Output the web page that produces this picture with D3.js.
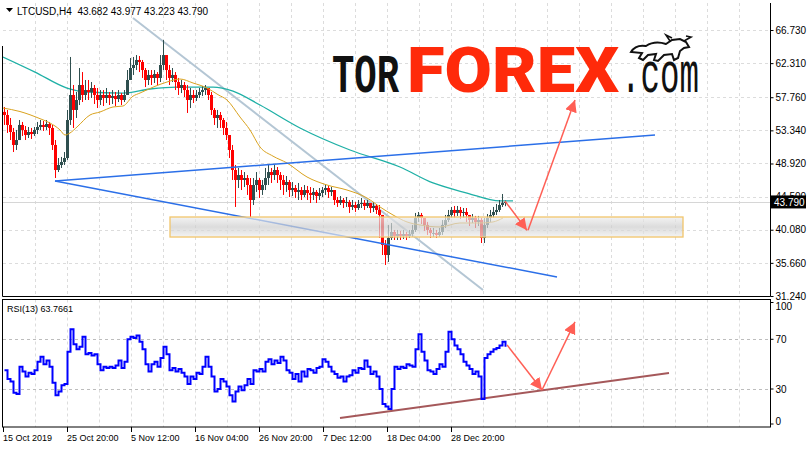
<!DOCTYPE html>
<html><head><meta charset="utf-8">
<script src="https://cdn.jsdelivr.net/npm/d3@7"></script>
<style>body{margin:0;background:#fff}svg{display:block}</style>
</head><body><svg id="c" width="811" height="449"></svg>
<script>
// ---------------- DATA ----------------
const symbol = "LTCUSD,H4";
const lastOHLC = ["43.682", "43.977", "43.223", "43.790"];
const rsiLabel = "RSI(13) 63.7661";
const logoParts = ["TOR", "FOREX", ".com"];
const barStep = 3;          // each stored candle covers 3 H4 bars
const firstOpen = 55.80;
const closes = [
 55.39,54.06,53.12,51.39,52.05,54.06,53.39,52.72,53.12,52.85,53.39,53.79,
 54.06,53.79,54.19,53.66,51.39,48.05,48.72,49.12,49.65,54.72,58.06,56.06,
 57.39,59.39,58.06,58.72,58.46,58.99,58.06,57.39,58.06,57.66,58.06,57.66,
 57.92,57.52,58.06,57.39,58.06,60.06,61.66,62.06,62.73,62.46,61.39,60.06,
 60.73,60.33,60.86,60.33,62.06,63.39,61.39,60.33,60.73,59.79,58.99,59.39,
 58.72,57.39,58.06,57.66,58.06,58.46,58.72,58.99,58.06,56.06,54.99,55.39,
 54.72,53.66,52.72,50.72,48.05,46.72,47.38,46.72,46.98,46.05,44.05,46.05,
 46.72,45.38,46.05,46.98,47.78,47.38,48.05,47.38,46.72,46.05,46.45,45.38,
 45.65,45.12,45.38,44.72,45.38,44.98,44.72,45.12,44.58,44.98,45.38,45.65,
 45.12,45.38,44.05,43.65,44.05,43.65,43.79,43.12,43.38,42.98,43.52,43.65,
 43.25,43.65,42.98,43.25,42.72,42.05,38.05,36.71,38.98,39.78,39.25,39.51,
 39.25,39.51,39.25,39.51,40.05,41.65,42.05,41.65,40.72,40.05,39.65,39.65,
 39.38,39.78,40.72,41.38,42.05,42.72,42.32,42.72,42.32,42.45,42.05,41.38,
 41.65,41.12,41.38,38.98,40.72,41.65,42.05,42.45,42.72,43.38,43.68,43.79];
const highs = [
 56.46,56.06,54.99,53.66,53.39,54.72,54.46,53.92,53.79,53.66,53.79,54.46,
 54.72,54.59,54.72,54.46,54.06,52.05,49.65,49.79,50.45,56.06,63.13,59.39,
 58.46,61.66,61.12,60.06,60.06,59.79,59.39,58.99,58.72,58.72,58.99,58.46,
 58.72,58.46,58.72,58.32,58.72,61.39,62.99,63.13,63.39,63.26,62.73,61.66,
 61.39,61.39,61.39,61.12,63.39,65.39,62.73,62.06,61.66,61.12,60.33,60.06,
 59.79,59.39,58.99,58.72,58.72,58.99,59.26,59.39,58.99,58.46,56.32,56.06,
 55.79,54.99,54.46,52.72,51.39,48.72,48.32,48.05,47.78,47.38,46.98,46.98,
 47.78,46.98,46.72,48.32,48.72,48.32,48.72,48.45,47.78,47.38,47.25,46.72,
 46.45,46.05,46.32,45.78,46.05,45.92,45.78,45.65,45.38,45.65,45.78,46.05,
 45.92,45.78,45.38,44.45,44.58,44.32,44.45,44.05,44.05,43.79,44.05,44.32,
 44.05,44.05,43.65,43.79,43.52,43.38,39.38,38.71,40.72,40.98,40.05,40.05,
 39.92,40.05,39.78,40.05,40.72,42.32,42.45,42.32,41.65,41.12,40.32,40.32,
 40.05,40.32,41.38,42.05,42.72,43.12,43.25,43.25,43.12,42.98,42.98,42.05,
 42.18,41.92,41.92,41.65,41.65,42.18,42.72,43.12,43.52,44.05,44.85,43.98];
const lows = [
 54.06,52.99,52.05,50.45,50.72,52.05,52.59,52.05,52.32,52.19,52.59,52.85,
 53.39,53.26,53.39,52.72,50.72,46.98,47.78,48.32,48.72,49.39,54.06,53.66,
 54.99,56.72,57.12,57.39,57.39,57.66,56.86,56.32,56.72,56.59,56.99,56.72,
 56.86,56.59,57.12,56.72,57.12,58.06,60.06,60.73,61.39,61.12,60.33,59.12,
 59.39,59.39,59.66,59.39,59.79,61.39,60.06,59.39,59.79,58.72,58.06,58.32,
 57.79,55.66,56.32,56.99,57.26,57.66,57.92,58.06,57.39,55.39,54.06,53.66,
 53.66,52.72,52.05,49.65,46.72,43.12,45.65,45.38,45.78,44.72,41.78,43.38,
 45.12,44.32,44.72,45.38,46.05,46.32,46.72,46.32,45.38,44.72,45.12,44.45,
 44.58,44.32,44.05,44.05,44.45,44.05,43.65,44.05,43.65,44.05,44.45,44.72,
 44.32,44.58,43.38,43.12,43.38,42.98,43.12,42.32,42.72,42.45,42.72,42.98,
 42.72,42.98,42.32,42.45,42.18,38.98,36.71,35.38,35.78,38.71,38.71,38.71,
 38.71,38.85,38.71,38.98,39.11,39.78,41.12,40.85,39.92,39.38,38.98,39.11,
 38.98,39.11,39.38,40.32,41.12,41.65,41.65,41.92,41.52,41.65,41.12,40.58,
 40.98,40.32,40.58,38.31,38.31,40.32,41.12,41.65,42.05,42.45,43.12,43.22];
const rsi = [
 45,38,36,27,26,48,44,40,43,42,45,52,
 56,50,53,48,35,25,28,33,34,60,78,66,
 62,64,72,58,59,57,58,50,45,48,47,48,
 47,49,53,47,52,70,72,71,73,68,62,50,
 44,50,52,48,55,64,58,45,47,44,46,43,
 40,34,40,38,43,42,48,56,48,40,28,30,
 38,36,32,25,20,28,32,29,33,38,34,45,
 44,46,44,52,54,50,53,51,56,53,45,43,
 38,42,36,44,40,46,45,43,47,48,54,52,
 48,44,42,39,40,36,40,41,45,43,47,46,
 53,48,42,44,40,30,18,16,14,30,48,46,
 48,47,50,49,48,62,74,60,53,45,44,42,
 46,50,48,60,76,70,65,62,58,52,49,46,
 42,44,40,22,55,58,60,62,63,65,68,64];
// moving averages: [bar, price]
const maSlow = [[0,63.13],[32,61.12],[64,58.99],[84,58.46],[120,58.32],[147,58.86],[174,59.12],
 [210,59.12],[230,58.59],[257,56.72],[297,53.66],[347,50.72],[397,48.45],[430,46.32],
 [464,44.98],[497,43.92],[510,43.92]];
const maFast = [[0,56.32],[17,55.85],[37,54.9],[47,54.32],[57,53.4],[62,52.72],[67,52.99],
 [74,53.79],[87,55.39],[97,55.79],[110,56.46],[120,56.59],[130,57.9],[137,58.32],[150,59.1],
 [164,59.79],[177,60.19],[190,59.66],[204,58.99],[215,58.1],[224,57.39],[237,55.12],
 [247,53.39],[257,51.12],[270,49.9],[284,48.99],[304,47.12],[324,46.05],[344,45.38],
 [364,44.32],[377,43.12],[390,42.05],[404,41.12],[417,40.72],[437,40.45],[457,40.98],
 [477,40.98],[490,41.12],[500,41.65]];
const priceTicks = [66.73, 62.31, 57.76, 53.34, 48.92, 44.50, 40.08, 35.66, 31.24];
const rsiTicks = [100, 70, 30, 0];
const timeLabels = ["15 Oct 2019","25 Oct 20:00","5 Nov 12:00","16 Nov 04:00","26 Nov 20:00","7 Dec 12:00","18 Dec 04:00","28 Dec 20:00"];
const timeLabelBars = [0, 64, 128, 192, 256, 320, 384, 448];
const lastPrice = 43.79;
const trendUpper = [[52,46.58],[652,52.72]];
const trendLower = [[52,46.58],[554,33.78]];
const trendSteep = [[130,68.33],[480,32.05]];
const zoneBars = [167, 680];
const zonePrices = [39.11, 41.78];
const arrowsMain = [[[502,43.9],[524,40.0]], [[525,40.0],[572,57.4]]];
const rsiTrend = [[337,6.7],[666,42.9]];
const arrowsRsi = [[[504,65.5],[539,29.2]], [[539,29.2],[572,84]]];

// ---------------- DRAW ----------------
const svg = d3.select("#c");
const W = 811, H = 449;
const L = 3, R = 771, mainTop = 3, mainBot = 296.5, rTop = 299.5, rBot = 427;
const x = d3.scaleLinear().domain([0, 768]).range([L, R]);
const y = d3.scaleLinear().domain([31.24, 66.73]).range([296, 30]);
const yr = d3.scaleLinear().domain([0, 100]).range([426.3, 302]);
const FONT = "'Liberation Sans', Arial, sans-serif";

svg.append("rect").attr("width", W).attr("height", H).attr("fill", "#fff");
const defs = svg.append("defs");
defs.append("clipPath").attr("id","cm").append("rect").attr("x",L).attr("y",mainTop).attr("width",R-L).attr("height",mainBot-mainTop);
defs.append("clipPath").attr("id","cr").append("rect").attr("x",L).attr("y",rTop).attr("width",R-L).attr("height",rBot-rTop);
const grad = defs.append("linearGradient").attr("id","zg").attr("x1",0).attr("y1",0).attr("x2",0).attr("y2",1);
grad.append("stop").attr("offset","0%").attr("stop-color","#eeeeee");
grad.append("stop").attr("offset","50%").attr("stop-color","#cdcdcd");
grad.append("stop").attr("offset","100%").attr("stop-color","#eeeeee");
defs.append("marker").attr("id","ah").attr("viewBox","0 0 10 10").attr("refX",10).attr("refY",5)
  .attr("markerWidth",12).attr("markerHeight",12).attr("markerUnits","userSpaceOnUse").attr("orient","auto")
  .append("path").attr("d","M0,0 L10,5 L0,10 Z").attr("fill","#ff5f55");

// grids
const gm = svg.append("g");
const vBars = d3.range(32, 768, 32);
gm.selectAll("line.v").data(vBars).join("line")
  .attr("x1", d => x(d) + 0.5).attr("x2", d => x(d) + 0.5).attr("y1", mainTop).attr("y2", mainBot)
  .attr("stroke", "#dcdcdc").attr("stroke-dasharray", "3,3");
gm.selectAll("line.vr").data(vBars).join("line")
  .attr("x1", d => x(d) + 0.5).attr("x2", d => x(d) + 0.5).attr("y1", rTop).attr("y2", rBot)
  .attr("stroke", "#dcdcdc").attr("stroke-dasharray", "3,3");
gm.selectAll("line.h").data(priceTicks).join("line")
  .attr("x1", L).attr("x2", R).attr("y1", d => Math.round(y(d)) + 0.5).attr("y2", d => Math.round(y(d)) + 0.5)
  .attr("stroke", "#dcdcdc").attr("stroke-dasharray", "3,3");
gm.selectAll("line.hr").data([70, 30]).join("line")
  .attr("x1", L).attr("x2", R).attr("y1", d => Math.round(yr(d)) + 0.5).attr("y2", d => Math.round(yr(d)) + 0.5)
  .attr("stroke", "#bdbdbd").attr("stroke-dasharray", "3,3");

// logo
const logo = svg.append("g");
logo.append("g").attr("transform", "translate(332,92) scale(0.69,1)")
  .append("text").attr("font-family", "'Liberation Mono', 'Courier New', monospace").attr("font-weight", "bold")
  .attr("font-size", 54).attr("fill", "#111").text(logoParts[0]);
logo.append("text").attr("x", 407).attr("y", 92).attr("textLength", 212).attr("lengthAdjust", "spacingAndGlyphs")
  .attr("font-family", "Roboto, 'Open Sans', sans-serif").attr("font-weight", 900).attr("font-size", 63)
  .attr("fill", "#ff2a0a").text(logoParts[1]);
logo.append("g").attr("transform", "translate(621,92) scale(0.56,1)")
  .append("text").attr("font-family", "'Liberation Mono', 'Courier New', monospace")
  .attr("font-size", 58).attr("fill", "#111").text(logoParts[2]);
logo.append("path")
  .attr("d", "M631,52 C634,47 640,45 646,46 C652,42 660,42 666,44 L672,40 L680,39 L686,42 L689,47 L684,48 L680,51 L678,58 L674,60 L672,54 L664,55 L658,61 L654,60 L656,54 L648,55 L643,60 L639,58 L642,53 Z")
  .attr("fill", "#fff").attr("stroke", "#111").attr("stroke-width", 2);
logo.append("path").attr("d", "M670,41 L666,35 L672,38 M684,41 L691,37 L686,36")
  .attr("fill", "none").attr("stroke", "#111").attr("stroke-width", 1.6);

// main panel content
const main = svg.append("g").attr("clip-path", "url(#cm)");
main.append("line").attr("x1", L).attr("x2", R).attr("y1", Math.round(y(lastPrice)) + 0.5).attr("y2", Math.round(y(lastPrice)) + 0.5)
  .attr("stroke", "#d6d6d6");
const lineP = d3.line().x(d => x(d[0])).y(d => y(d[1]));
const curveP = d3.line().x(d => x(d[0])).y(d => y(d[1])).curve(d3.curveMonotoneX);
main.append("path").attr("d", lineP(trendSteep)).attr("stroke", "#b4c6d4").attr("stroke-width", 2).attr("fill", "none");
main.append("path").attr("d", curveP(maSlow)).attr("stroke", "#1fb0a6").attr("stroke-width", 1.3).attr("fill", "none");
// candles
const candles = closes.map((c, i) => ({
  i, o: i === 0 ? firstOpen : closes[i - 1], c, h: highs[i], l: lows[i]
}));
const cg = main.append("g");
cg.selectAll("line").data(candles).join("line")
  .attr("x1", d => x(d.i * barStep) + 1.5).attr("x2", d => x(d.i * barStep) + 1.5)
  .attr("y1", d => y(Math.max(d.h, d.o, d.c))).attr("y2", d => y(Math.min(d.l, d.o, d.c)))
  .attr("stroke", d => d.c >= d.o ? "#2f4f4f" : "#ff0000").attr("stroke-width", 1);
cg.selectAll("rect").data(candles).join("rect")
  .attr("x", d => x(d.i * barStep)).attr("width", barStep)
  .attr("y", d => y(Math.max(d.o, d.c))).attr("height", d => Math.max(1, Math.abs(y(d.o) - y(d.c))))
  .attr("fill", d => d.c >= d.o ? "#2f4f4f" : "#ff0000");
main.append("path").attr("d", curveP(maFast))
  .attr("stroke", "#d9a21f").attr("stroke-width", 1).attr("fill", "none");
main.append("path").attr("d", lineP(trendUpper)).attr("stroke", "#2b6fe8").attr("stroke-width", 1.5).attr("fill", "none");
main.append("path").attr("d", lineP(trendLower)).attr("stroke", "#2b6fe8").attr("stroke-width", 1.5).attr("fill", "none");
// zone
main.append("rect").attr("x", x(zoneBars[0])).attr("width", x(zoneBars[1]) - x(zoneBars[0]))
  .attr("y", y(zonePrices[1])).attr("height", y(zonePrices[0]) - y(zonePrices[1]))
  .attr("fill", "url(#zg)").attr("fill-opacity", 0.7).attr("stroke", "#f2c56a").attr("stroke-width", 1.3);
// arrows
arrowsMain.forEach(a => main.append("path").attr("d", lineP(a)).attr("stroke", "#ff5f55").attr("stroke-width", 1.5)
  .attr("fill", "none").attr("marker-end", "url(#ah)"));

// RSI panel
const rg = svg.append("g").attr("clip-path", "url(#cr)");
const lineR = d3.line().x(d => x(d[0])).y(d => yr(d[1]));
rg.append("path").attr("d", lineR(rsiTrend)).attr("stroke", "#a5585a").attr("stroke-width", 2).attr("fill", "none");
rg.append("path").attr("d", d3.line().x((d, i) => x(i * barStep) + 1.5).y(d => yr(d)).curve(d3.curveStepAfter)(rsi))
  .attr("stroke", "#0000ff").attr("stroke-width", 2).attr("fill", "none");
arrowsRsi.forEach(a => rg.append("path").attr("d", lineR(a)).attr("stroke", "#ff5f55").attr("stroke-width", 1.5)
  .attr("fill", "none").attr("marker-end", "url(#ah)"));

// frames
const fr = svg.append("g").attr("fill", "none").attr("stroke", "#000");
fr.append("path").attr("d", `M${L - 0.5},${46} V${mainBot} H${R - 0.5} V${mainTop}`);
fr.append("rect").attr("x", L - 0.5).attr("y", rTop).attr("width", R - L).attr("height", rBot - rTop);

// price axis
const pa = svg.append("g").attr("transform", `translate(${R - 0.5},0)`)
  .call(d3.axisRight(y).tickValues(priceTicks).tickFormat(d3.format(".3f")).tickSize(3).tickPadding(2));
pa.select(".domain").remove();
pa.selectAll("text").attr("font-family", FONT).attr("font-size", 10).attr("fill", "#000");
// last price box
const lpY = y(lastPrice);
svg.append("rect").attr("x", R).attr("y", lpY - 6.5).attr("width", 35).attr("height", 13).attr("fill", "#000");
svg.append("text").attr("x", R + 3).attr("y", lpY + 4).attr("font-family", FONT).attr("font-size", 10)
  .attr("fill", "#fff").text(d3.format(".3f")(lastPrice));

// RSI axis
const ra = svg.append("g").attr("transform", `translate(${R - 0.5},0)`);
ra.selectAll("line").data(rsiTicks).join("line")
  .attr("x1", 0).attr("x2", 3).attr("y1", d => Math.min(Math.max(yr(d), rTop + 3), rBot - 3)).attr("y2", d => Math.min(Math.max(yr(d), rTop + 3), rBot - 3))
  .attr("stroke", "#000");
ra.selectAll("text").data(rsiTicks).join("text")
  .attr("x", 5).attr("y", d => Math.min(Math.max(yr(d), rTop + 7), rBot - 6) + 3.5)
  .attr("font-family", FONT).attr("font-size", 10).text(d => d);

// time axis
const ta = svg.append("g");
ta.selectAll("line").data(timeLabelBars).join("line")
  .attr("x1", d => x(d) + 0.5).attr("x2", d => x(d) + 0.5).attr("y1", rBot).attr("y2", rBot + 5).attr("stroke", "#000");
ta.selectAll("text").data(timeLabels).join("text")
  .attr("x", (d, i) => x(timeLabelBars[i])).attr("y", 441)
  .attr("font-family", FONT).attr("font-size", 9).attr("fill", "#000").text(d => d);

// header
svg.append("path").attr("d", "M6,8 L13,8 L9.5,12 Z").attr("fill", "#000");
svg.append("text").attr("x", 17).attr("y", 15).attr("font-family", FONT).attr("font-size", 10)
  .attr("xml:space", "preserve").text(symbol + "  " + lastOHLC.join(" "));
svg.append("text").attr("x", 7).attr("y", 312).attr("font-family", FONT).attr("font-size", 9).text(rsiLabel);
</script></body></html>
